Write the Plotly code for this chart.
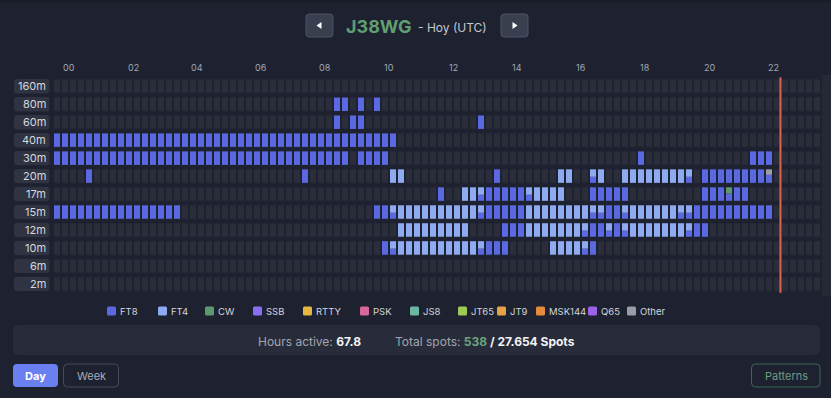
import plotly.graph_objects as go

W, H = 831, 398

# ---------------- data ----------------
CALLSIGN = "J38WG"
PERIOD_LABEL = "- Hoy (UTC)"
NOW_UTC = "22:44"
HOURS_ACTIVE = "67.8"
TOTAL_SPOTS = "538"
TOTAL_ALL_SPOTS = "27.654"

BANDS = ["160m", "80m", "60m", "40m", "30m", "20m", "17m", "15m", "12m", "10m", "6m", "2m"]
HOUR_VALUES = [0, 2, 4, 6, 8, 10, 12, 14, 16, 18, 20, 22]
HOUR_LABELS = ["00", "02", "04", "06", "08", "10", "12", "14", "16", "18", "20", "22"]

LEGEND_MODES = ["FT8", "FT4", "CW", "SSB", "RTTY", "PSK", "JS8", "JT65", "JT9", "MSK144", "Q65", "Other"]

# activity per band: 24 hour-groups of four 15-minute slots
# '.' none, F = FT8, f = FT4, M = FT8+FT4, C = FT8+CW, O = FT8+Other
ROW_160M = ".... .... .... .... .... .... .... .... .... .... .... .... .... .... .... .... .... .... .... .... .... .... .... ...."
ROW_80M  = ".... .... .... .... .... .... .... .... ...F F.F. F... .... .... .... .... .... .... .... .... .... .... .... .... ...."
ROW_60M  = ".... .... .... .... .... .... .... .... ...F .FF. .... .... .... .F.. .... .... .... .... .... .... .... .... .... ...."
ROW_40M  = "FFFF FFFF FFFF FFFF FFFF FFFF FFFF FFFF FFFF FFFF FFF. .... .... .... .... .... .... .... .... .... .... .... .... ...."
ROW_30M  = "FFFF FFFF FFFF FFFF FFFF FFFF FFFF FFFF FFFF F.FF FF.. .... .... .... .... .... .... .... .F.. .... .... ...F FF.. ...."
ROW_20M  = ".... F... .... .... .... .... .... ...F .... .... ..ff .... .... ...F .... ...f f..M f..f ffff fffM .FFF FFFF FO.. ...."
ROW_17M  = ".... .... .... .... .... .... .... .... .... .... .... .... F..f fMFF FFFM ffff ...F FFFF .... .... .FFF CFF. .... ...."
ROW_15M  = "FFFF FFFF FFFF FFFF .... .... .... .... .... .... FFMf ffff ffff fMFF FFFf ffff fffM MFFM ffff ffMM FFFF FFFF FF.. ...."
ROW_12M  = ".... .... .... .... .... .... .... .... .... .... ...f ffff ffff .... FFFf ffff ffMF FMFM ffff fffM FF.. .... .... ...."
ROW_10M  = ".... .... .... .... .... .... .... .... .... .... .FMf ffff ffff fMFF F... ..ff ffMF .... .... .... .... .... .... ...."
ROW_6M   = ".... .... .... .... .... .... .... .... .... .... .... .... .... .... .... .... .... .... .... .... .... .... .... ...."
ROW_2M   = ".... .... .... .... .... .... .... .... .... .... .... .... .... .... .... .... .... .... .... .... .... .... .... ...."

ACTIVITY = [ROW_160M, ROW_80M, ROW_60M, ROW_40M, ROW_30M, ROW_20M,
            ROW_17M, ROW_15M, ROW_12M, ROW_10M, ROW_6M, ROW_2M]

# share of each mode inside a cell code (first = bottom of the cell)
CELL_MIX = {
    "F": [("FT8", 1.0)],
    "f": [("FT4", 1.0)],
    "M": [("FT8", 0.45), ("FT4", 0.55)],
    "C": [("FT8", 0.55), ("CW", 0.45)],
    "O": [("FT8", 0.6), ("Other", 0.4)],
}

# ---------------- styles ----------------
BG = "#1e2130"
EMPTY = "#2a2e3b"
MODE_COLORS = {
    "FT8": "#5a68e2", "FT4": "#8eabf2", "CW": "#5b9a6e", "SSB": "#8a6ef0",
    "RTTY": "#e2b843", "PSK": "#d9679a", "JS8": "#6cb7a2", "JT65": "#9dca52",
    "JT9": "#e4a446", "MSK144": "#e28a3e", "Q65": "#9b62ea", "Other": "#9a9da6",
}
FONT = "Inter, Noto Sans, sans-serif"

NSLOT = 96
NROW = len(BANDS)
ROW_PITCH = 17.96
ROW0_PX = 86.3
CELL_H = 0.75
CELL_W = 0.75

# axis ranges so that slot i centre sits at pixel 57 + 8 i and row r at ROW0_PX + r*pitch
x_range = [(0 - 57) / 8, (W - 57) / 8]
top_y = NROW - 1
y_range = [top_y - (H - ROW0_PX) / ROW_PITCH, top_y + ROW0_PX / ROW_PITCH]

rows = ["".join(s.split()) for s in ACTIVITY]
for s in rows:
    assert len(s) == NSLOT, len(s)
row_y = [top_y - r for r in range(NROW)]

fig = go.Figure()

# empty grid
fig.add_trace(go.Heatmap(
    z=[[1] * NSLOT for _ in range(NROW)], x=list(range(NSLOT)), y=row_y,
    colorscale=[[0, EMPTY], [1, EMPTY]], showscale=False, xgap=2, ygap=4.5,
    hoverinfo="skip"))

# coloured segments
seg = {m: {"x": [], "base": [], "h": []} for m in LEGEND_MODES}
for r, s in enumerate(rows):
    for i, code in enumerate(s):
        if code == ".":
            continue
        cur = row_y[r] - CELL_H / 2
        for mode, frac in CELL_MIX[code]:
            seg[mode]["x"].append(i)
            seg[mode]["base"].append(cur)
            seg[mode]["h"].append(frac * CELL_H)
            cur += frac * CELL_H
for mode in LEGEND_MODES:
    if seg[mode]["x"]:
        fig.add_trace(go.Bar(
            x=seg[mode]["x"], y=seg[mode]["h"], base=seg[mode]["base"],
            width=CELL_W, marker=dict(color=MODE_COLORS[mode], line=dict(width=0)),
            hoverinfo="skip", name=mode))

shapes = []
ann = []


def px(x):
    return x / W


def py(y):
    return 1 - y / H


def rrect(x0, y0, x1, y1, r, fill, line=None, lw=1):
    X0, X1 = px(x0), px(x1)
    Y0, Y1 = py(y0), py(y1)
    rx, ry = r / W, r / H
    path = (f"M {X0+rx},{Y0} L {X1-rx},{Y0} Q {X1},{Y0} {X1},{Y0-ry} "
            f"L {X1},{Y1+ry} Q {X1},{Y1} {X1-rx},{Y1} L {X0+rx},{Y1} "
            f"Q {X0},{Y1} {X0},{Y1+ry} L {X0},{Y0-ry} Q {X0},{Y0} {X0+rx},{Y0} Z")
    shapes.append(dict(type="path", xref="paper", yref="paper", path=path,
                       fillcolor=fill, line=dict(color=line or fill, width=lw if line else 0),
                       layer="below"))


def tri(pts, fill):
    path = "M " + " L ".join(f"{px(x)},{py(y)}" for x, y in pts) + " Z"
    shapes.append(dict(type="path", xref="paper", yref="paper", path=path,
                       fillcolor=fill, line=dict(width=0), layer="above"))


def label(text, x, y, size, color, xanchor="center", xref="paper", yref="paper"):
    ann.append(dict(text=text, xref=xref, yref=yref, x=x, y=y, xanchor=xanchor,
                    yanchor="middle", showarrow=False, borderpad=0,
                    font=dict(family=FONT, size=size, color=color)))


# container edges
shapes.append(dict(type="rect", xref="paper", yref="paper", x0=0, x1=1, y0=py(2.5), y1=1,
                   fillcolor="#191c27", line=dict(width=0), layer="below"))
shapes.append(dict(type="rect", xref="paper", yref="paper", x0=px(822), x1=1, y0=py(296),
                   y1=py(75), fillcolor="#252936", line=dict(width=0), layer="below"))

# current time marker
hh, mm = NOW_UTC.split(":")
now_x = (int(hh) + int(mm) / 60) * 4 - 0.5
shapes.append(dict(type="line", xref="x", yref="y", x0=now_x, x1=now_x,
                   y0=-0.5, y1=top_y + 0.5, line=dict(color="#e0654f", width=2), layer="above"))

# band labels
for r, b in enumerate(BANDS):
    cy = ROW0_PX + r * ROW_PITCH
    rrect(14, cy - 7.2, 49.5, cy + 7.2, 3, "#2f3342")
    label(b, px(46.5), row_y[r], 11, "#d6d9df", xanchor="right", yref="y")

# hour labels
for h, lab in zip(HOUR_VALUES, HOUR_LABELS):
    label(lab, h * 4 + 1.5, py(67.5), 9, "#a2a8b4", xref="x")

# title + navigation
rrect(306, 14, 333, 37, 3, "#3a3f4f", "#4d5366")
rrect(501, 14, 528, 37, 3, "#3a3f4f", "#4d5366")
tri([(316.5, 25.5), (321.5, 22), (321.5, 29)], "#ffffff")
tri([(517.5, 25.5), (512.5, 22), (512.5, 29)], "#ffffff")
label(f"<b>{CALLSIGN}</b>", px(413), py(26.5), 18, "#5f9f70", xanchor="right")
label(PERIOD_LABEL, px(417), py(28), 12, "#c4c8d0", xanchor="left")

# legend
LEGEND_SQ_X = [107, 158, 205, 253, 303, 360, 410, 458, 497, 536, 588, 627]
for m, sx in zip(LEGEND_MODES, LEGEND_SQ_X):
    rrect(sx, 306.5, sx + 9, 315.5, 1.5, MODE_COLORS[m])
    label(m, px(sx + 11.5), py(311), 9.5, "#d2d5dc", xanchor="left")

# stats panel
rrect(13, 325, 820, 355, 6, "#282c3a")
label(f"Hours active: <b><span style='color:#f2f3f6'>{HOURS_ACTIVE}</span></b>",
      px(362), py(341), 12, "#a0a6b1", xanchor="right")
label((f"Total spots: <b><span style='color:#6aa57c'>{TOTAL_SPOTS}</span></b>"
       f"<b><span style='color:#f2f3f6'> / {TOTAL_ALL_SPOTS} Spots</span></b>"),
      px(394), py(341), 12, "#a0a6b1", xanchor="left")

# buttons
rrect(13, 364, 58, 387, 4, "#6a80f0")
label("<b>Day</b>", px(35.5), py(375.5), 11, "#ffffff")
rrect(63.5, 364, 118.5, 387, 4, BG, "#454b5c")
label("Week", px(91), py(375.5), 11, "#a6acb8")
rrect(751.5, 364, 820, 387, 4, BG, "#3b6650")
label("Patterns", px(786), py(375.5), 11, "#6e9c80")

fig.update_layout(
    width=W, height=H, margin=dict(l=0, r=0, t=0, b=0),
    paper_bgcolor=BG, plot_bgcolor=BG, showlegend=False,
    barmode="overlay",
    xaxis=dict(range=x_range, visible=False, fixedrange=True),
    yaxis=dict(range=y_range, visible=False, fixedrange=True),
    shapes=shapes, annotations=ann,
)

fig.write_html(
    "out.html",
    config={"displayModeBar": False, "staticPlot": True},
    post_script="document.body.style.margin='0px';document.body.style.backgroundColor='#1e2130';",
)
